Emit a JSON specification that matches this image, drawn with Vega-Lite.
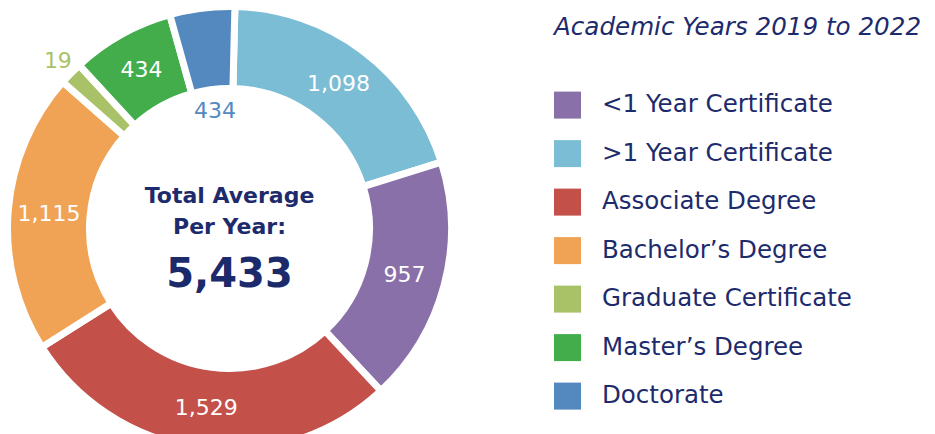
{
  "$schema": "https://vega.github.io/schema/vega-lite/v6.json",
  "width": 459,
  "height": 457,
  "autosize": {"type": "none"},
  "padding": {"left": 0, "top": 0, "right": 476, "bottom": 0},
  "background": "white",
  "view": {"stroke": null},
  "config": {
    "font": "DejaVu Sans",
    "legend": {
      "orient": "none",
      "legendX": 554,
      "legendY": 16,
      "padding": 0,
      "titleFontSize": 24.6,
      "titleFontStyle": "italic",
      "titleFontWeight": "normal",
      "titleColor": "#1D2B6C",
      "titleFont": "DejaVu Sans",
      "titlePadding": 51,
      "titleLimit": 600,
      "labelFontSize": 24.5,
      "labelColor": "#1D2B6C",
      "labelFont": "DejaVu Sans",
      "labelLimit": 600,
      "labelOffset": 21,
      "symbolType": "square",
      "symbolSize": 729,
      "symbolStrokeWidth": 0,
      "symbolOpacity": 1,
      "rowPadding": 21.5
    }
  },
  "datasets": {
    "degrees": [
      {"degree": ">1 Year Certificate", "value": 1098, "arc_deg": 71.2, "slot": 1},
      {"degree": "<1 Year Certificate", "value": 957, "arc_deg": 64.4, "slot": 2},
      {"degree": "Associate Degree", "value": 1529, "arc_deg": 100.7, "slot": 3},
      {"degree": "Bachelor’s Degree", "value": 1115, "arc_deg": 73.6, "slot": 4},
      {"degree": "Graduate Certificate", "value": 19, "arc_deg": 6.1, "slot": 5},
      {"degree": "Master’s Degree", "value": 434, "arc_deg": 27.0, "slot": 6},
      {"degree": "Doctorate", "value": 434, "arc_deg": 17.0, "slot": 7}
    ],
    "center": [{"line": "Total Average\nPer Year:"}],
    "total": [{"t": "5,433"}]
  },
  "layer": [
    {
      "data": {"name": "degrees"},
      "mark": {"type": "arc", "outerRadius": 222, "innerRadius": 140, "stroke": "white", "strokeWidth": 7},
      "encoding": {
        "theta": {"field": "arc_deg", "type": "quantitative", "stack": true, "scale": {"range": [0.0244, 6.3076]}},
        "order": {"field": "slot", "type": "quantitative"},
        "color": {
          "field": "degree",
          "type": "nominal",
          "title": "Academic Years 2019 to 2022",
          "scale": {
            "domain": ["<1 Year Certificate", ">1 Year Certificate", "Associate Degree", "Bachelor’s Degree", "Graduate Certificate", "Master’s Degree", "Doctorate"],
            "range": ["#8A70A8", "#7BBDD4", "#C4504A", "#F0A355", "#A9C267", "#43AD4C", "#5389BF"]
          }
        }
      }
    },
    {
      "data": {"name": "degrees"},
      "mark": {"type": "text", "radius": 181, "fontSize": 22, "color": "white"},
      "encoding": {
        "theta": {"field": "arc_deg", "type": "quantitative", "stack": true},
        "order": {"field": "slot", "type": "quantitative"},
        "text": {"field": "value", "type": "quantitative", "format": ","},
        "opacity": {"condition": {"test": "datum.degree !== 'Doctorate' && datum.degree !== 'Graduate Certificate'", "value": 1}, "value": 0}
      }
    },
    {
      "data": {"name": "degrees"},
      "mark": {"type": "text", "radius": 118, "fontSize": 22, "color": "#5389BF"},
      "encoding": {
        "theta": {"field": "arc_deg", "type": "quantitative", "stack": true},
        "order": {"field": "slot", "type": "quantitative"},
        "text": {"field": "value", "type": "quantitative", "format": ","},
        "opacity": {"condition": {"test": "datum.degree === 'Doctorate'", "value": 1}, "value": 0}
      }
    },
    {
      "data": {"name": "degrees"},
      "mark": {"type": "text", "radius": 240, "fontSize": 22, "color": "#A9C267"},
      "encoding": {
        "theta": {"field": "arc_deg", "type": "quantitative", "stack": true},
        "order": {"field": "slot", "type": "quantitative"},
        "text": {"field": "value", "type": "quantitative", "format": ","},
        "opacity": {"condition": {"test": "datum.degree === 'Graduate Certificate'", "value": 1}, "value": 0}
      }
    },
    {
      "data": {"name": "center"},
      "mark": {"type": "text", "lineBreak": "\n", "lineHeight": 31, "fontSize": 22, "fontWeight": "bold", "color": "#1D2B6C", "baseline": "alphabetic", "dy": -25.5},
      "encoding": {"text": {"field": "line", "type": "nominal"}}
    },
    {
      "data": {"name": "total"},
      "mark": {"type": "text", "fontSize": 40, "fontWeight": "bold", "color": "#1B2A6A", "baseline": "alphabetic", "dy": 58.5},
      "encoding": {"text": {"field": "t", "type": "nominal"}}
    }
  ]
}
